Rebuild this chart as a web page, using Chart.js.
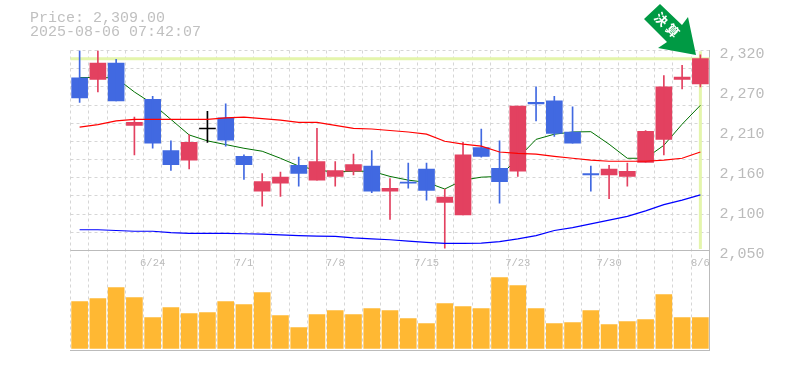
<!DOCTYPE html>
<html lang="ja">
<head>
  <meta charset="UTF-8" />
  <title>Price chart</title>
  <script src="https://cdn.jsdelivr.net/npm/chart.js"></script>
  <style>
    html, body { margin: 0; padding: 0; background: #fff; overflow: hidden; }
    #wrap { position: relative; width: 785px; height: 370px; }
    #info { position: absolute; left: 30px; top: 12px; font: 15px/14px "Liberation Mono", monospace; color: #c0c0c0; white-space: pre; z-index: 2; }
    #badge { position: absolute; left: 0; top: 0; z-index: 3; }
  </style>
</head>
<body>
  <div id="wrap">
    <canvas id="chart" width="785" height="370"></canvas>
    <div id="info">Price: 2,309.00
2025-08-06 07:42:07</div>
    <svg id="badge" width="785" height="70">
      <polygon points="660,4 644,19 667,42 658,48 696,55 688,17 682,25" fill="#009a44" />
      <text x="0" y="0" transform="translate(667,27) rotate(45)" font-family="Noto Sans CJK JP" font-weight="700" font-size="13" letter-spacing="3" fill="#fff" text-anchor="middle" dominant-baseline="middle">決算</text>
    </svg>
  </div>

  <script>
    const dates = ['6/18','6/19','6/20','6/23','6/24','6/25','6/26','6/27','6/30','7/1','7/2','7/3','7/4','7/7','7/8','7/9','7/10','7/11','7/14','7/15','7/16','7/17','7/18','7/22','7/23','7/24','7/25','7/28','7/29','7/30','7/31','8/1','8/4','8/5','8/6'];
    const dateLabels = ['6/24','7/1','7/8','7/15','7/23','7/30','8/6'];

    const opens  = [2283,2281,2303,2219,2254,2185,2172,2214,2229,2177,2130,2141,2165,2145,2150,2157,2164,2130,2142,2160,2115,2098,2189,2161,2157,2250,2252,2210,2154,2152,2150,2169,2200,2281,2275];
    const closes = [2256,2303,2252,2223,2195,2166,2196,2214,2199,2166,2143,2149,2154,2170,2158,2166,2130,2134,2141,2131,2122,2179,2177,2143,2245,2248,2208,2195,2152,2160,2157,2211,2271,2284,2309];
    const highs  = [2320,2320,2308,2230,2258,2198,2206,2238,2248,2179,2154,2156,2176,2215,2170,2180,2185,2147,2168,2168,2133,2196,2214,2198,2245,2271,2258,2244,2164,2165,2168,2212,2286,2300,2314];
    const lows   = [2250,2264,2252,2179,2188,2158,2160,2196,2191,2146,2110,2123,2137,2145,2137,2152,2128,2092,2134,2118,2053,2098,2176,2114,2150,2225,2204,2195,2130,2120,2137,2169,2179,2268,2271];

    const shortMa = [2283.5,2283.5,2283,2264,2248,2227,2206,2198,2193,2188,2184,2174.5,2164,2158.5,2156,2157,2157,2150,2145,2142,2133,2145,2149,2150,2174.5,2200,2207,2210,2210.4,2193.5,2174.5,2174.5,2192,2220.5,2246];
    const midMa = [2216.5,2220,2225,2227,2227,2227,2227,2227,2229,2230,2228,2226,2223,2223,2219,2215,2214,2212,2210,2207,2197.5,2193.5,2191,2183,2181,2180,2177,2174.5,2172,2170.5,2170.5,2170.5,2172,2174.5,2183];
    const longMa = [2078,2078,2077,2076,2076,2074,2073,2073,2073,2072.6,2072,2071,2070,2069.3,2069,2067,2065.6,2064.5,2062.6,2061,2059.5,2059.5,2060,2062,2065.6,2070,2077,2081,2086,2091,2096,2103.5,2112,2118,2125];

    const volumes = [470,500,610,510,310,410,350,360,470,440,560,330,210,340,380,340,400,380,300,250,450,420,400,710,630,400,250,260,380,240,270,290,540,310,310];

    const lastPrice = 2309;
    const gridValues = [2320,2295.45,2270.91,2246.36,2221.82,2197.27,2172.73,2148.18,2123.64,2099.09,2074.55,2050];
    const yTickValues = [2320,2266,2212,2158,2104,2050];
    const yTickLabels = ['2,320','2,270','2,210','2,160','2,100','2,050'];

    const RED = '#e34160', BLUE = '#4169e1', BLACK = '#000000';
    const candleColor = (o, c) => (o === c ? BLACK : c > o ? RED : BLUE);
    const colors = opens.map((o, i) => candleColor(o, closes[i]));
    const monoFont = { family: '"Liberation Mono", monospace', size: 15 };

    // lime cross hair on the last price / last day
    const lastPriceLines = {
      id: 'lastPriceLines',
      beforeDatasetsDraw(chart) {
        const { ctx, chartArea, scales } = chart;
        const y = scales.y.getPixelForValue(lastPrice);
        const x = scales.x.getPixelForValue(dates.length - 1);
        ctx.save();
        ctx.strokeStyle = '#e4f5ac';
        ctx.lineWidth = 3;
        ctx.beginPath();
        ctx.moveTo(chartArea.left, y);
        ctx.lineTo(chartArea.right, y);
        ctx.moveTo(x, scales.y.getPixelForValue(2319));
        ctx.lineTo(x, scales.y.getPixelForValue(2052));
        ctx.stroke();
        ctx.restore();
      }
    };

    new Chart(document.getElementById('chart'), {
      data: {
        labels: dates,
        datasets: [
          { type: 'line', data: shortMa, borderColor: '#007000', borderWidth: 1, pointRadius: 0, tension: 0, order: 3 },
          { type: 'line', data: midMa, borderColor: '#ff0000', borderWidth: 1.2, pointRadius: 0, tension: 0, order: 1 },
          { type: 'line', data: longMa, borderColor: '#0000ff', borderWidth: 1.2, pointRadius: 0, tension: 0, order: 1 },
          { type: 'bar', data: highs.map((h, i) => [lows[i], h]), backgroundColor: colors, barThickness: 1, order: 2 },
          { type: 'bar', data: opens.map((o, i) => [o, closes[i]]), backgroundColor: colors, barThickness: 16, minBarLength: 1, order: 2 },
          { type: 'bar', data: volumes, yAxisID: 'volume', backgroundColor: '#ffb833', barThickness: 16, order: 2 }
        ]
      },
      options: {
        responsive: false,
        animation: false,
        events: [],
        layout: { padding: { left: 70.5, top: 50.5, right: 0, bottom: 19.5 } },
        datasets: { bar: { grouped: false } },
        plugins: { legend: { display: false }, title: { display: false }, tooltip: { enabled: false } },
        scales: {
          x: {
            type: 'category',
            offset: true,
            grid: { offset: true, color: '#d6d6d6', drawTicks: false },
            border: { color: '#bbbbbb', dash: [3, 3] },
            afterFit(scale) { scale.height = 0; },
            ticks: { display: false }
          },
          xDates: {
            type: 'category',
            labels: dates,
            offset: true,
            position: { y: 2050 },
            afterFit(scale) { scale.height = 0; },
            grid: { display: false },
            border: { display: false },
            ticks: {
              autoSkip: false,
              maxRotation: 0,
              padding: -2,
              color: '#bbbbbb',
              font: { family: '"Liberation Mono", monospace', size: 10.5 },
              callback(value) {
                const label = this.getLabelForValue(value);
                return dateLabels.includes(label) ? label : '';
              }
            }
          },
          y: {
            type: 'linear',
            position: 'right',
            stack: 'panels',
            stackWeight: 2,
            min: 2050,
            max: 2320,
            afterFit(scale) { scale.width = 75.5; },
            afterBuildTicks(scale) {
              const values = [...new Set([...gridValues, ...yTickValues])].sort((a, b) => a - b);
              scale.ticks = values.map(value => ({ value }));
            },
            grid: {
              drawTicks: false,
              color: ctx => (gridValues.includes(ctx.tick.value) ? '#d6d6d6' : 'rgba(0,0,0,0)')
            },
            border: { color: '#bbbbbb', dash: [3, 3] },
            ticks: {
              padding: 10,
              labelOffset: 4,
              autoSkip: false,
              color: '#bbbbbb',
              font: monoFont,
              callback(value) {
                const i = yTickValues.indexOf(value);
                return i >= 0 ? yTickLabels[i] : '';
              }
            }
          },
          volume: {
            type: 'linear',
            position: 'right',
            stack: 'panels',
            stackWeight: 1,
            min: -20,
            max: 980,
            afterFit(scale) { scale.width = 75.5; },
            afterBuildTicks(scale) { scale.ticks = [{ value: 980 }]; },
            grid: { drawTicks: false, color: '#bbbbbb' },
            border: { color: '#bbbbbb' },
            ticks: { display: false }
          }
        }
      },
      plugins: [lastPriceLines]
    });
  </script>
</body>
</html>
